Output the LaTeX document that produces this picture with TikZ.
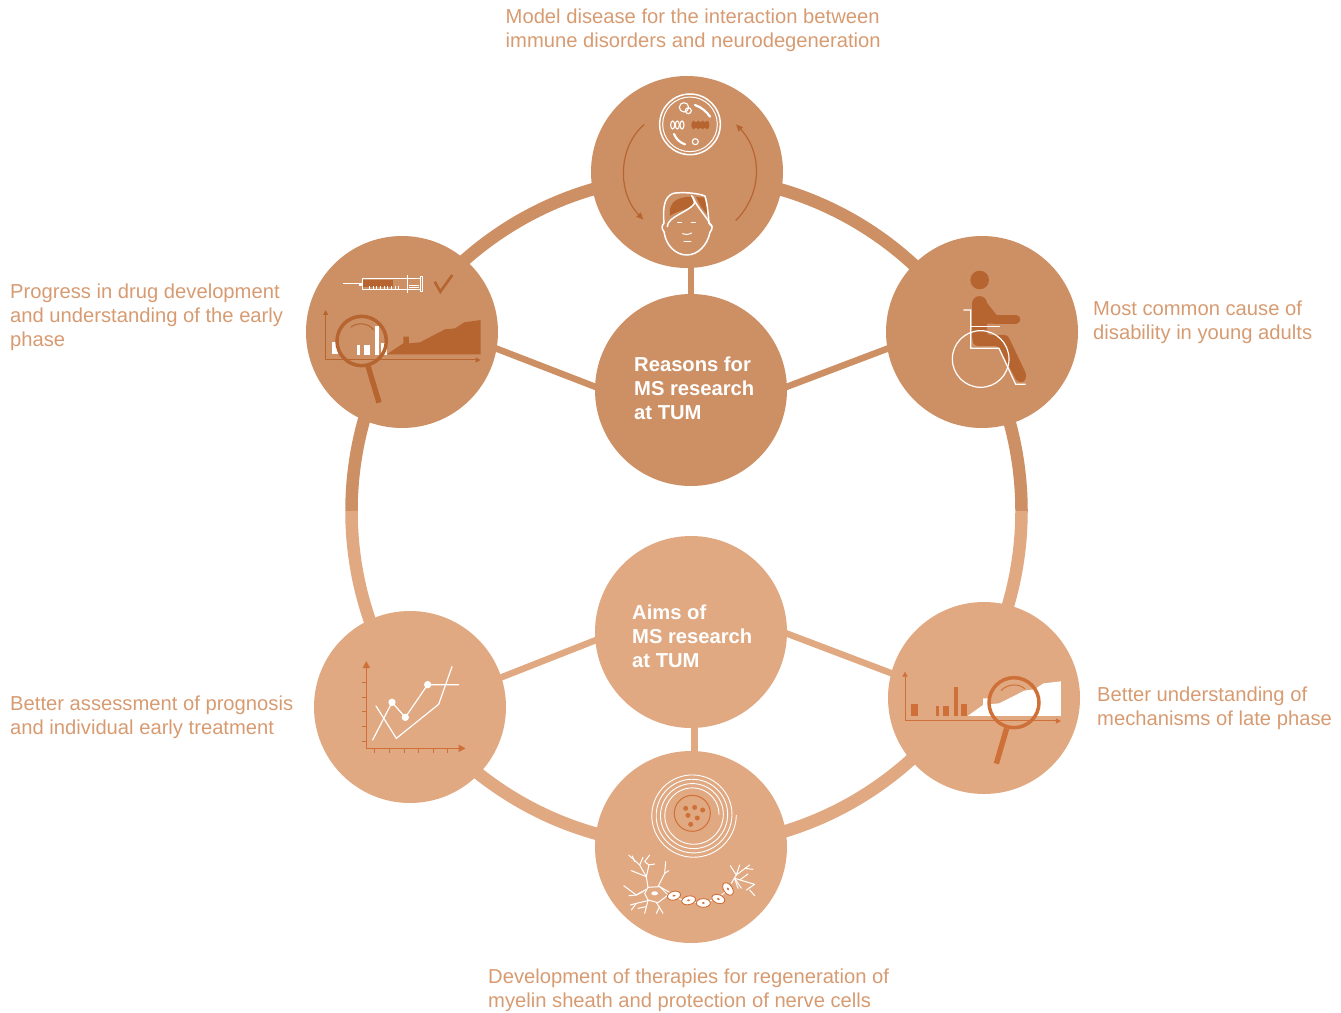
\documentclass[tikz,border=0pt]{standalone}
\usepackage{fontspec}
\setmainfont{Liberation Sans}
\usetikzlibrary{arrows.meta}
\definecolor{cdark}{HTML}{CD9065}
\definecolor{clight}{HTML}{E0A982}
\definecolor{adark}{HTML}{B76530}
\definecolor{alight}{HTML}{CF7038}
\definecolor{labelc}{HTML}{D79B72}
\tikzset{
  bigdark/.style={circle,fill=cdark,minimum size=192pt,inner sep=0pt},
  biglight/.style={circle,fill=clight,minimum size=192pt,inner sep=0pt},
  linkdark/.style={draw=cdark,line width=6.5pt,shorten >=-2pt,shorten <=-2pt},
  linklight/.style={draw=clight,line width=6.5pt,shorten >=-2pt,shorten <=-2pt},
  lab/.style={anchor=west,inner sep=0pt,align=left,text=labelc,font=\fontsize{20.2}{24}\selectfont},
  head/.style={anchor=west,inner sep=0pt,align=left,text=white,font=\fontsize{20.2}{24}\selectfont\bfseries},
  wl/.style={draw=white,line width=1.5pt,line join=round,line cap=round},
  wt/.style={draw=white,line width=1pt,line join=round,line cap=round},
  zoomed/.style={x=0.3333pt,y=-0.3333pt},
}
\begin{document}
\begin{tikzpicture}[x=1pt,y=-1pt]
\useasboundingbox (0,0) rectangle (1341,1012);
% ring
\coordinate (ringc) at (686.5,511);
\draw[cdark,line width=12.5pt] (ringc) ++(-335,0) arc[start angle=180,end angle=360,radius=335];
\draw[clight,line width=12.5pt] (ringc) ++(335,0) arc[start angle=0,end angle=180,radius=335];
% nodes
\node[bigdark] (top) at (687,172) {};
\node[bigdark] (left) at (402,332) {};
\node[bigdark] (right) at (982,332) {};
\node[bigdark] (c1) at (691,390) {};
\node[biglight] (c2) at (691,632) {};
\node[biglight] (bl) at (410,707) {};
\node[biglight] (br) at (984,698) {};
\node[biglight] (bot) at (691,847) {};
% links
\draw[linkdark] (c1.north) -- (c1.north |- top.south);
\draw[linkdark] (left.-10) -- (c1.178);
\draw[linkdark] (right.190) -- (c1.2);
\draw[linklight] (bl.18) -- (c2.185);
\draw[linklight] (br.165) -- (c2.-1);
\draw[linklight] (bot.88.8) -- (c2.-88.8);
% centre texts
\node[head] (t1) at (634,388) {Reasons for\\MS research\\at TUM};
\node[head] (t2) at (632,636) {Aims of\\MS research\\at TUM};
% labels
\node[lab] (l1) at (505.5,30.5) {Model disease for the interaction between\\immune disorders and neurodegeneration};
\node[lab] (l2) at (10,317.5) {Progress in drug development\\and understanding of the early\\phase};
\node[lab] (l3) at (1093,322.5) {Most common cause of\\disability in young adults};
\node[lab] (l4) at (10,717.5) {Better assessment of prognosis\\and individual early treatment};
\node[lab] (l5) at (1097,708.5) {Better understanding of\\mechanisms of late phase};
\node[lab] (l6) at (488,990.5) {Development of therapies for regeneration of\\myelin sheath and protection of nerve cells};
% ---------- top icon
\begin{scope}[shift={(590,75)},zoomed]
\draw[white,line width=1.5pt] (300,148) circle[radius=91];
\draw[white,line width=1pt] (300,148) circle[radius=82];
\draw[white,line width=1.1pt] (282,97) circle[radius=14];
\draw[white,line width=1.1pt] (295,107) circle[radius=9];
\draw[white,line width=1.1pt] (316,200) circle[radius=9];
\draw[white,line width=2.2pt,line cap=round] (315,90) .. controls (335,97) and (350,110) .. (360,125);
\draw[white,line width=2.2pt,line cap=round] (252,177) .. controls (258,192) and (270,203) .. (285,208);
\foreach \cx in {248,262,276}{\draw[white,line width=1.1pt] (\cx,150) ellipse[x radius=6,y radius=12];}
\fill[adark] (305,142) rectangle (356,158);
\foreach \cx in {311,325,338,351}{\fill[adark] (\cx,150) ellipse[x radius=7,y radius=13];}
\draw[adark,line width=1.2pt,-{Triangle[length=7pt,width=6pt]}] (163,148) .. controls (85,215) and (80,350) .. (160,434);
\draw[adark,line width=1.2pt,-{Triangle[length=7pt,width=6pt]}] (437,437) .. controls (515,360) and (520,235) .. (438,148);
% face
\fill[adark] (240,422) .. controls (236,390) and (250,366) .. (305,365) -- (316,385) .. controls (300,403) and (268,405) .. (240,422) -- cycle;
\fill[adark] (318,366) -- (342,368) .. controls (350,385) and (353,400) .. (351,418) -- (333,395) -- cycle;
\draw[wl] (222,470) .. controls (214,462) and (215,450) .. (222,445) .. controls (218,400) and (222,365) .. (250,355) .. controls (280,350) and (325,355) .. (345,363) .. controls (352,385) and (355,420) .. (357,445) .. controls (369,448) and (369,462) .. (360,472);
\draw[wl] (222,470) .. controls (228,515) and (260,540) .. (290,540) .. controls (325,540) and (352,510) .. (360,472);
\draw[wl] (232,455) .. controls (232,425) and (295,412) .. (314,385) .. controls (314,378) and (310,372) .. (305,362);
\draw[wl] (308,365) .. controls (325,405) and (352,425) .. (362,452);
\draw[wt] (263,443) -- (275,443); \draw[wt] (304,443) -- (316,443);
\draw[wt] (278,476) .. controls (285,479) and (298,479) .. (305,474); \draw[wt] (282,499) -- (303,499);
\end{scope}
% ---------- left icon
\begin{scope}[shift={(305,235)},zoomed]
% syringe
\fill[adark] (175,135) rectangle (263,155);
\draw[white,line width=1pt] (173,132) rectangle (308,163);
\draw[white,line width=1pt] (115,147) -- (163,147);
\fill[white] (163,143) rectangle (173,152);
\draw[white,line width=1.2pt] (307,120) -- (307,173);
\draw[white,line width=0.8pt] (312,151) -- (342,151);
\draw[white,line width=0.8pt] (312,156) -- (342,156);
\draw[white,line width=1pt] (308,131) -- (347,131);
\draw[white,line width=1pt] (308,165) -- (347,165);
\draw[white,line width=0.9pt] (347,125) rectangle (353,170);
\foreach \tx in {193,204,...,290}{\draw[white,line width=0.7pt] (\tx,153) -- (\tx,163);}
\draw[adark,line width=2.6pt] (389,140) -- (406,170) -- (442,120);
% chart
\draw[adark,line width=1pt,-{Triangle[length=5pt,width=5pt]}] (62,375) -- (62,225);
\draw[adark,line width=1pt,-{Triangle[length=5pt,width=5pt]}] (62,375) -- (527,375);
\fill[adark] (245,358) -- (295,325) -- (295,305) -- (312,305) -- (312,325) -- (345,322) -- (420,283) -- (450,280) -- (478,262) -- (527,255) -- (527,358) -- cycle;
\fill[white] (81,322) rectangle (100,358);
\fill[white] (155,330) rectangle (166,360);
\fill[white] (177,330) rectangle (194,360);
\fill[white] (210,273) rectangle (222,360);
\fill[white] (228,323) rectangle (245,360);
\draw[adark,line width=3.5pt] (170,318) circle[radius=74];
\draw[adark,line width=5.4pt] (189,393) -- (222,503);
\draw[adark,line width=1pt] (137,277) .. controls (155,262) and (190,262) .. (206,285);
\end{scope}
% ---------- right icon
\begin{scope}[shift={(885,235)},zoomed]
\fill[adark] (284,135) circle[radius=28];
\draw[adark,line width=14.4pt,line cap=round] (284,205) -- (284,300);
\fill[adark] (262,205) -- (303,200) -- (335,240) -- (335,266) -- (306,266) -- (306,290) -- (262,290) -- cycle;
\draw[adark,line width=8.7pt,line cap=round] (330,253) -- (393,253);
\fill[adark,rounded corners=3pt] (262,280) -- (306,280) -- (306,300) -- (368,300) -- (425,420) -- (418,442) -- (396,440) -- (340,333) -- (270,333) -- (262,320) -- cycle;
\draw[white,line width=1.2pt] (235,225) -- (257,225) -- (257,340) -- (342,340) -- (392,448) -- (422,448);
\draw[white,line width=1.2pt] (257,275) -- (345,275);
\draw[white,line width=1.2pt] (287,372) circle[radius=85];
\end{scope}
% ---------- bottom-left icon
\begin{scope}[shift={(312,610)},zoomed]
\draw[alight,line width=1.5pt,-{Triangle[length=7pt,width=7pt]}] (163,415) -- (163,153);
\draw[alight,line width=1.5pt,-{Triangle[length=7pt,width=7pt]}] (163,415) -- (461,415);
\foreach \ty in {217,261,305,349,393}{\draw[alight,line width=0.9pt] (150,\ty) -- (163,\ty);}
\foreach \tx in {188,232,276,319,363,406}{\draw[alight,line width=0.9pt] (\tx,415) -- (\tx,428);}
\draw[wl,line width=1.2pt] (182,390) -- (240,277) -- (280,322) -- (347,224) -- (440,224);
\draw[wl,line width=1.2pt] (192,288) -- (253,385) -- (380,283) -- (420,170);
\fill[white] (240,277) circle[radius=11];
\fill[white] (280,322) circle[radius=11];
\fill[white] (347,224) circle[radius=11];
\end{scope}
% ---------- bottom-right icon
\begin{scope}[shift={(886,600)},zoomed]
\draw[alight,line width=1pt,-{Triangle[length=5pt,width=5pt]}] (57,363) -- (57,215);
\draw[alight,line width=1pt,-{Triangle[length=5pt,width=5pt]}] (57,363) -- (525,363);
\fill[alight] (75,312) rectangle (96,348);
\fill[alight] (150,318) rectangle (159,348);
\fill[alight] (171,318) rectangle (189,348);
\fill[alight] (204,262) rectangle (216,348);
\fill[alight] (225,312) rectangle (243,348);
\fill[white] (245,348) -- (291,315) -- (291,295) -- (307,295) -- (307,313) -- (340,310) -- (415,272) -- (445,268) -- (473,250) -- (525,244) -- (525,348) -- cycle;
\draw[alight,line width=3.5pt] (384,308) circle[radius=75];
\draw[alight,line width=5.4pt] (362,385) -- (331,491);
\draw[alight,line width=1pt] (345,272) .. controls (365,250) and (400,250) .. (417,267);
\end{scope}
% ---------- bottom icon
\begin{scope}[shift={(593,750)},zoomed]
\draw[white,line width=0.9pt,smooth] plot[domain=0:1440,samples=240] ({300+(130-0.0361*\x)*cos(\x)},{195+(130-0.0361*\x)*sin(\x)});
\draw[alight,line width=1pt] (298,190) circle[radius=54];
\foreach \dx/\dy in {278/175,305/172,329/180,285/196,313/204,293/223}{\fill[alight] (\dx,\dy) circle[radius=7.5];}
% neuron
\draw[wt] (165,412) -- (200,410) -- (225,435) -- (195,458) -- (165,450) -- (155,430) -- cycle;
\fill[white] (185,430) ellipse[x radius=10,y radius=6];
\draw[wt] (165,412) -- (160,380) -- (140,345) -- (107,315);
\draw[wt] (125,335) -- (118,318); \draw[wt] (140,345) -- (150,322);
\draw[wt] (160,380) -- (115,362); \draw[wt] (160,380) -- (168,345) -- (185,342); \draw[wt] (168,345) -- (155,335) -- (170,315);
\draw[wt] (195,410) -- (215,370) -- (218,335); \draw[wt] (215,370) -- (227,362);
\draw[wt] (160,418) -- (130,435) -- (92,407); \draw[wt] (130,435) -- (108,437); \draw[wt] (130,435) -- (150,425);
\draw[wt] (165,452) -- (130,460) -- (115,480); \draw[wt] (130,460) -- (112,465); \draw[wt] (165,452) -- (155,490); \draw[wt] (160,470) -- (135,475);
\draw[wt] (190,457) -- (210,490); \draw[wt] (200,470) -- (190,490);
\draw[wt] (200,410) -- (235,430);
\draw[wt] (240,437) .. controls (290,465) and (360,470) .. (405,417);
\draw[wt] (415,400) -- (430,375) -- (412,347);
\draw[wt] (430,375) -- (440,345); \draw[wt] (430,375) -- (470,345); \draw[wt] (455,355) -- (480,358);
\draw[wt] (425,385) -- (485,403) -- (460,420); \draw[wt] (470,420) -- (485,437);
\draw[wt] (425,385) -- (435,415); \draw[wt] (425,385) -- (445,415); \draw[wt] (440,390) -- (465,372);
\foreach \ex/\ey/\er/\ea in {243/437/20/15,287/451/21/12,331/459/21/0,376/447/20/-20,405/417/21/-55}{
  \draw[alight,line width=0.9pt,fill=white,rotate around={\ea:(\ex,\ey)}] (\ex,\ey) ellipse[x radius=\er,y radius=13];
  \fill[alight,rotate around={\ea:(\ex,\ey)}] (\ex,\ey) ellipse[x radius=5,y radius=3];
}
\end{scope}
\end{tikzpicture}
\end{document}
